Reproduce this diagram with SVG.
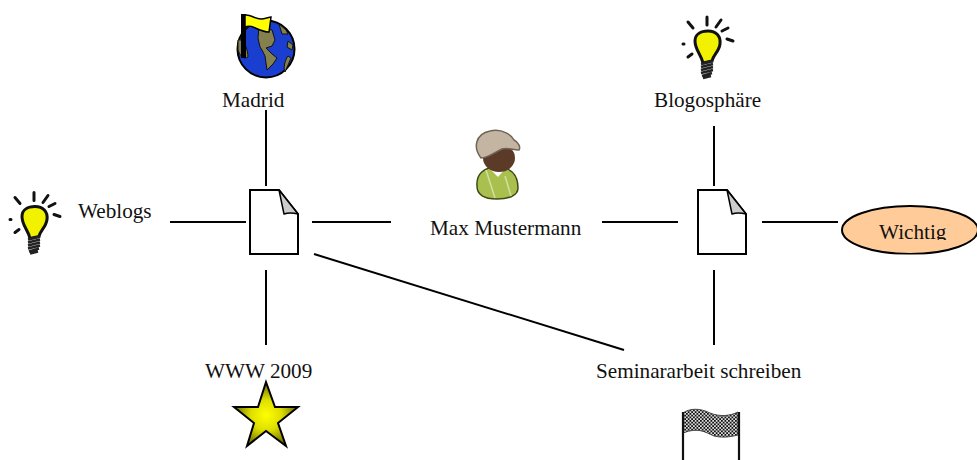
<svg xmlns="http://www.w3.org/2000/svg" width="977" height="460" viewBox="0 0 977 460">
<style>
text{font-family:"Liberation Serif","Times New Roman",serif;font-size:21.200px;fill:#111}
.c{stroke:#000;stroke-width:2;fill:none}
.doc{fill:#fff;stroke:#000;stroke-width:2;stroke-linejoin:miter}
.fold{fill:#ccc;stroke:#000;stroke-width:1.5;stroke-linejoin:round}
.ray{stroke:#111;stroke-width:3;stroke-linecap:round;fill:none}
.bulb{fill:#f2f200;stroke:#111;stroke-width:3}
.screw{stroke:#222;stroke-width:2.400;fill:none}
.land{fill:#85804f;stroke:#111;stroke-width:1}
</style>
<defs>
<radialGradient id="starFill" cx="50%" cy="52%" r="48%"><stop offset="0" stop-color="#ffff00"/><stop offset="0.5" stop-color="#dede00"/><stop offset="1" stop-color="#777700"/></radialGradient>
<pattern id="check" width="3.500" height="3.500" patternUnits="userSpaceOnUse"><rect width="3.500" height="3.500" fill="#ddd"/><rect width="1.750" height="1.750" fill="#111"/><rect x="1.750" y="1.750" width="1.750" height="1.750" fill="#111"/></pattern>
<clipPath id="wichtigClip"><rect x="830" y="200" width="147" height="54.500"/></clipPath>
<clipPath id="wichtigText"><rect x="830" y="200" width="147" height="40"/></clipPath>
<symbol id="bulbIcon" viewBox="0 0 54 66" width="54" height="66" overflow="visible">
<path class="ray" d="M24 3V11M5 8L10 14M33 13L38 6M39 17L45 14M44 25L50 27M0 30L1 30M5 43L9 40"/>
<path class="bulb" d="M20 49C18 40 12 36 12 27C12 20 18 17 25 17C33 17 38 22 37 30C36 38 30 41 29 47Z"/>
<path class="screw" d="M18 50L30 47M18 53L30 50M18 56L30 53M18 59L30 56M19 62L29 59M20 64L28 62"/>
</symbol>
</defs>
<g id="connectors">
<line class="c" x1="266" y1="110" x2="266" y2="186"/>
<line class="c" x1="170" y1="222" x2="246" y2="222"/>
<line class="c" x1="312" y1="222" x2="391" y2="222"/>
<line class="c" x1="266" y1="270" x2="266" y2="345"/>
<line class="c" x1="314" y1="254" x2="624" y2="350"/>
<line class="c" x1="602" y1="222" x2="678" y2="222"/>
<line class="c" x1="714" y1="126" x2="714" y2="186"/>
<line class="c" x1="762" y1="222" x2="838" y2="222"/>
<line class="c" x1="714" y1="270" x2="714" y2="345"/>
</g>
<g id="doc1">
<path class="doc" d="M250 190H279L298 214V254H250Z"/>
<path class="fold" d="M279 190L298 214Q290 212 284 214Z"/>
</g>
<g id="doc2">
<path class="doc" d="M698 190H727L746 214V254H698Z"/>
<path class="fold" d="M727 190L746 214Q738 212 732 214Z"/>
</g>
<g id="madrid">
<circle cx="266" cy="49" r="28.500" fill="#1a3fd0" stroke="#000" stroke-width="2"/>
<path class="land" d="M259 27L272 30L275 40L272 46L266 48L272 54L277 58L273 64L267 70L265 56L262 50L260 47L258 38Z"/>
<path class="land" d="M238 40C244 38 248 50 248 57C244 60 240 56 238 50Z"/>
<path class="land" d="M279 24L286 30L288 34L282 34ZM288 41L293 45L292 50L287 47ZM288 56L291 58L285 72C283 68 285 60 288 56Z"/>
<rect x="241" y="14" width="5" height="44" fill="#000"/>
<path d="M245 15C251 14 254 19 261 19C265 19 269 17 271 17L269 32C263 32 258 29 253 27C251 26 247 26 245 27Z" fill="#ffff00" stroke="#000" stroke-width="1.500"/>
<text x="222" y="107">Madrid</text>
</g>
<g id="weblogs">
<use href="#bulbIcon" x="10" y="189.500"/>
<text x="78" y="218">Weblogs</text>
</g>
<g id="max">
<path d="M477 186C476 174 484 167 497 167C510 167 518 174 518 188C518 196 508 199 497 199C486 199 477 196 477 186Z" fill="#a9c04f" stroke="#3c4a15" stroke-width="1.500"/>
<path d="M486 170L495 198M505 176L511 196" fill="none" stroke="#d3dfa0" stroke-width="1.500"/>
<path d="M489 168L498 177L506 168Z" fill="#fff"/>
<ellipse cx="499" cy="158" rx="16" ry="14" fill="#5c3a28"/>
<path d="M481 158C473 148 475 134 490 131C503 128 512 136 514 140C518 142 521 147 519 150C512 150 507 147 502 149C495 152 488 158 481 158Z" fill="#c4b5a3" stroke="#6e6558" stroke-width="1.500"/>
<text x="430" y="235">Max Mustermann</text>
</g>
<g id="blogosphaere">
<use href="#bulbIcon" x="683" y="14"/>
<text x="654" y="107">Blogosphäre</text>
</g>
<g id="wichtig">
<ellipse cx="910" cy="230" rx="68" ry="24" fill="#ffcc99" stroke="#000" stroke-width="2" clip-path="url(#wichtigClip)"/>
<text x="879" y="239" clip-path="url(#wichtigText)">Wichtig</text>
</g>
<g id="www2009">
<text x="205" y="378">WWW 2009</text>
<path d="M266 382L275 407H298L278 423L286 446L266 431L247 446L254 423L234 407H258Z" fill="url(#starFill)" stroke="#000" stroke-width="2" stroke-linejoin="miter"/>
</g>
<g id="seminararbeit">
<text x="596" y="378">Seminararbeit schreiben</text>
<path d="M683 413C690 408 700 408 710 413C720 417 730 416 738 412V435C730 437 722 438 714 436C705 432 698 427 683 433Z" fill="url(#check)" stroke="#444"/>
<path d="M683 412V460M739 412V460" stroke="#111" stroke-width="2.200" fill="none"/>
</g>
</svg>
